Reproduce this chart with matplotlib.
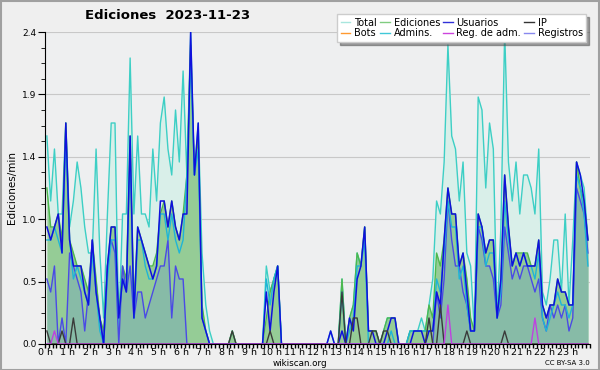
# Wikiscan edits-per-minute chart, 10-minute buckets over one day
import numpy as np
import matplotlib.pyplot as plt
from matplotlib.lines import Line2D
from matplotlib.patches import Rectangle
from matplotlib.ticker import MultipleLocator, FixedLocator

# values in tenths of an edit per minute, one per 10-minute bucket (144 per day)
total = [16,11,15,10,10,17,9,11,14,12,9,7, 7,15,7,2,10,17,17,1,10,10,22,10,
         16,10,10,9,15,11,17,19,15,13,18,14, 21,13,24,13,17,7,3,1,0,0,0,0,
         0,1,0,0,0,0,0,0,0,0,6,4, 5,6,0,0,0,0,0,0,0,0,0,0,
         0,0,0,1,0,0,5,0,2,3,7,6, 9,1,1,1,0,1,2,2,2,0,0,0,
         1,1,1,2,1,3,5,11,10,14,23,16, 15,11,14,7,6,1,19,18,12,17,15,2,
         9,24,14,11,14,10,13,13,12,10,15,4, 3,5,8,8,4,10,3,8,14,13,12,8]
ediciones = [12,9,9,10,8,17,8,7,6,6,5,4, 8,5,2,1,6,9,9,2,6,5,16,3,
             9,8,7,6,6,7,10,11,9,11,9,8, 10,13,23,13,16,3,1,0,0,0,0,0,
             0,1,0,0,0,0,0,0,0,0,2,4, 5,6,0,0,0,0,0,0,0,0,0,0,
             0,0,0,0,0,0,5,0,2,3,7,6, 9,1,1,1,0,1,2,2,2,0,0,0,
             1,1,1,1,1,3,2,7,6,8,12,10, 10,6,7,5,2,1,10,9,7,8,8,2,
             5,13,9,6,7,7,7,7,6,6,8,3, 2,3,3,5,4,4,3,3,14,12,11,8]
usuarios = [9,8,9,10,7,17,8,6,6,6,4,3, 8,4,2,0,6,9,9,2,5,4,16,2,
            9,8,7,6,5,6,11,11,9,11,9,8, 10,10,24,13,17,2,1,0,0,0,0,0,
            0,0,0,0,0,0,0,0,0,0,4,1, 4,6,0,0,0,0,0,0,0,0,0,0,
            0,0,0,1,0,0,1,0,2,1,5,6, 9,1,1,0,0,0,1,2,2,0,0,0,
            0,1,1,1,0,1,1,4,3,8,12,10, 10,6,7,4,1,1,10,9,7,8,8,2,
            5,13,9,6,7,6,7,6,6,6,8,3, 2,3,3,5,4,4,3,3,14,13,11,8]
admins = [8,8,9,8,7,16,8,5,6,5,4,3, 7,4,1,0,5,8,8,2,5,4,15,2,
          8,8,6,5,5,6,10,10,8,10,8,7, 8,13,22,13,15,2,1,0,0,0,0,0,
          0,0,0,0,0,0,0,0,0,0,5,3, 5,6,0,0,0,0,0,0,0,0,0,0,
          0,0,0,0,0,0,4,0,1,2,6,6, 8,0,0,0,0,0,0,1,0,0,0,0,
          1,1,1,1,1,1,1,5,4,7,11,9, 9,5,6,3,1,1,9,9,6,7,7,2,
          4,11,8,6,7,6,7,6,6,5,7,2, 1,2,3,4,3,3,2,3,13,12,10,6]
registros = [5,4,6,0,2,0,7,6,5,4,1,4, 8,4,2,0,6,8,7,0,6,4,6,2,
             4,4,2,3,4,5,6,6,8,2,6,5, 5,0,0,0,0,0,0,0,0,0,0,0,
             0,0,0,0,0,0,0,0,0,0,0,0, 0,0,0,0,0,0,0,0,0,0,0,0,
             0,0,0,0,0,0,0,0,0,0,0,0, 0,0,0,0,0,0,0,0,0,0,0,0,
             0,0,0,0,0,0,0,4,2,5,11,8, 6,6,4,3,1,1,9,8,6,6,5,2,
             3,9,7,5,6,5,6,6,5,4,5,2, 1,3,2,3,2,3,1,2,12,11,10,7]
ip = [1,0,0,0,1,0,0,2,0,0,0,0, 0,0,0,0,0,0,0,0,0,0,0,0,
      0,0,0,0,0,0,0,0,0,0,0,0, 0,0,0,0,0,0,0,0,0,0,0,0,
      0,1,0,0,0,0,0,0,0,0,0,1, 0,0,0,0,0,0,0,0,0,0,0,0,
      0,0,0,0,0,0,4,0,0,2,2,0, 0,0,1,1,0,1,1,0,0,0,0,0,
      0,0,0,0,0,2,0,0,3,0,0,0, 0,0,0,1,0,0,0,0,0,0,0,0,
      0,1,0,0,0,0,0,0,0,0,0,0, 0,0,0,0,0,0,0,0,0,0,0,0]
reg_adm = [0,0,1,0,0,0,0,0,0,0,0,0] + [0] * 94 + [3] + [0] * 22 + [2] + [0] * 14
bots = [0] * 144

hour_labels = [f"{h} h" for h in range(24)]

x = (np.arange(144) + 0.5) / 6.0
v = lambda s: np.array(s) / 10.0

fig = plt.figure(figsize=(6, 3.7), dpi=100, facecolor="#efefef")
ax = fig.add_axes([0.075, 0.0703, 0.908, 0.8432])
ax.set_facecolor("#eeeff0")

# fills
ax.fill_between(x, 0, v(total), color="#d9efe9", lw=0)
ax.fill_between(x, 0, v(ediciones), color="#95cc96", lw=0)
ax.fill_between(x, 0, v(registros), color="#87bba7", lw=0)

# lines
ax.plot(x, v(bots), color="#ff9930", lw=1)
ax.plot(x, v(total), color="#3dcfc5", lw=1)
ax.plot(x, v(ediciones), color="#4db84d", lw=1)
ax.plot(x, v(registros), color="#4a4ae6", lw=1)
ax.plot(x, v(admins), color="#1fb5d6", lw=1)
ax.plot(x, v(usuarios), color="#1010dd", lw=1.1)
ax.plot(x, v(ip), color="#3a3a3a", lw=1)
ax.plot(x, v(reg_adm), color="#c040e0", lw=1)

ax.set_xlim(0, 24)
ax.set_ylim(0, 2.4)
ax.xaxis.set_major_locator(FixedLocator(range(24)))
ax.set_xticklabels(hour_labels, fontsize=6.8)
ax.xaxis.set_minor_locator(MultipleLocator(1 / 6))
ax.tick_params(axis="x", which="both", direction="out", length=3, width=1, pad=0)

yt = np.linspace(0, 2.4, 6)
ax.set_yticks(yt)
ax.set_yticklabels([f"{t:.1f}" for t in yt], fontsize=6.5)
ax.yaxis.set_minor_locator(MultipleLocator(0.12))
ax.tick_params(axis="y", which="major", direction="out", length=5, pad=1)
ax.tick_params(axis="y", which="minor", direction="out", length=3)
ax.grid(axis="y", color="#c8c8c8", lw=0.8)
ax.set_axisbelow(True)
for s in ("top", "right"):
    ax.spines[s].set_visible(False)
ax.set_ylabel("Ediciones/min", fontsize=7.5, labelpad=4)

fig.text(0.142, 0.957, "Ediciones  2023-11-23", fontsize=9.5, fontweight="bold",
         ha="left", va="center")
fig.text(0.5, 0.018, "wikiscan.org", fontsize=6.3, ha="center", va="center")
fig.text(0.983, 0.018, "CC BY-SA 3.0", fontsize=5, ha="right", va="center")

names = ["Total", "Bots", "Ediciones", "Admins.", "Usuarios", "Reg. de adm.", "IP", "Registros"]
cols = ["#a8e6de", "#ff9930", "#80cc80", "#40c8d8", "#3030d8", "#cc44dd", "#333333", "#8888ee"]
handles = [Line2D([], [], color=c, lw=1) for c in cols]
fig.legend(handles, names, ncol=4, loc="upper right", bbox_to_anchor=(0.985, 0.975),
           fontsize=7, frameon=True, fancybox=False, shadow=True, handlelength=1.0,
           handletextpad=0.4, columnspacing=0.3, labelspacing=0.1, borderpad=0.35,
           edgecolor="#cccccc", framealpha=1)

fig.patches.append(Rectangle((0.001, 0.001), 0.997, 0.996, transform=fig.transFigure,
                             fill=False, edgecolor="#a0a0a0", lw=1.5))

fig.savefig("out.png", dpi=100, facecolor=fig.get_facecolor())
